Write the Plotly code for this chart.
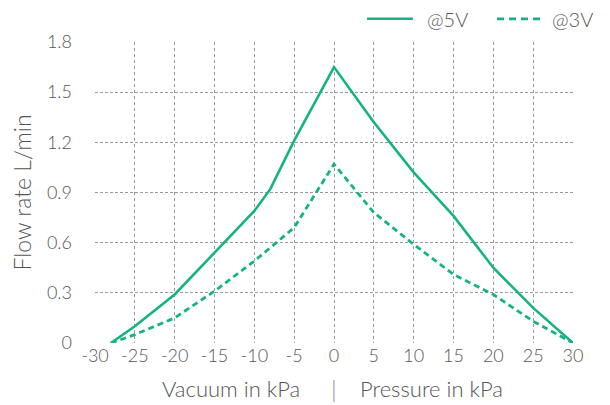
import plotly.graph_objects as go

x_5v = [-28, -25, -20, -15, -10, -8, -5, 0, 5, 10, 15, 20, 25, 30]
y_5v = [0, 0.10, 0.29, 0.54, 0.79, 0.92, 1.21, 1.65, 1.32, 1.02, 0.76, 0.45, 0.21, 0]
x_3v = [-28, -25, -20, -15, -10, -5, 0, 5, 10, 15, 20, 25, 30]
y_3v = [0, 0.05, 0.15, 0.31, 0.49, 0.69, 1.07, 0.78, 0.59, 0.41, 0.29, 0.13, 0]
x_ticks = list(range(-30, 31, 5))
x_tick_text = [str(v) for v in x_ticks]
y_ticks = [0, 0.3, 0.6, 0.9, 1.2, 1.5, 1.8]
y_tick_text = ["0", "0.3", "0.6", "0.9", "1.2", "1.5", "1.8"]
series_names = ["@5V", "@3V"]

GREEN = "#15b47c"
TXT = "#555555"
FONT = "Lato"
DASH3 = "6px,4px"

fig = go.Figure()
fig.add_trace(go.Scatter(x=x_5v, y=y_5v, mode="lines", name=series_names[0],
                         line=dict(color=GREEN, width=2.6), showlegend=False))
fig.add_trace(go.Scatter(x=x_3v, y=y_3v, mode="lines", name=series_names[1],
                         line=dict(color=GREEN, width=2.8, dash=DASH3), showlegend=False))

# manual legend (paper coordinates)
ly = 1.077
fig.add_shape(type="line", xref="paper", yref="paper", x0=0.569, x1=0.665, y0=ly, y1=ly,
              line=dict(color=GREEN, width=2.6))
fig.add_shape(type="line", xref="paper", yref="paper", x0=0.841, x1=0.937, y0=ly, y1=ly,
              line=dict(color=GREEN, width=2.8, dash="7px,5px"))
fig.add_annotation(xref="paper", yref="paper", x=0.6925, y=ly, text=series_names[0],
                   showarrow=False, xanchor="left", yanchor="middle", borderpad=0,
                   font=dict(size=20, weight=300, color=TXT))
fig.add_annotation(xref="paper", yref="paper", x=0.954, y=ly, text=series_names[1],
                   showarrow=False, xanchor="left", yanchor="middle", borderpad=0,
                   font=dict(size=20, weight=300, color=TXT))

# x-axis title pieces
ty = -0.15
fig.add_annotation(xref="x", yref="paper", x=-4, y=ty, text="Vacuum in kPa",
                   showarrow=False, xanchor="right", yanchor="middle",
                   font=dict(size=22, weight=300, color=TXT))
fig.add_annotation(xref="x", yref="paper", x=0, y=ty, text="|",
                   showarrow=False, xanchor="center", yanchor="middle",
                   font=dict(size=24, weight=300, color="#888888"))
fig.add_annotation(xref="x", yref="paper", x=3, y=ty, text="Pressure in kPa",
                   showarrow=False, xanchor="left", yanchor="middle",
                   font=dict(size=22, weight=300, color=TXT))

fig.update_layout(
    width=602, height=397,
    margin=dict(l=87, r=37, t=34, b=62, autoexpand=False),
    plot_bgcolor="white", paper_bgcolor="white",
    font=dict(family=FONT, color=TXT, size=18, weight=300),
    showlegend=False,
    xaxis=dict(range=[-30, 30], tickvals=x_ticks, ticktext=x_tick_text, showgrid=True,
               gridcolor="#999999", griddash="dot", gridwidth=1,
               zeroline=False, showline=False, ticks="",
               tickfont=dict(size=18, weight=300)),
    yaxis=dict(range=[0, 1.8], tickvals=y_ticks, ticktext=y_tick_text,
               showgrid=True, gridcolor="#999999", griddash="3px,2px", gridwidth=1,
               zeroline=False, showline=False, ticks="", ticklabelstandoff=22,
               tickfont=dict(size=18, weight=300),
               title=dict(text="Flow rate L/min", font=dict(size=23, weight=300), standoff=8)),
)

fig.write_html("out.html")
